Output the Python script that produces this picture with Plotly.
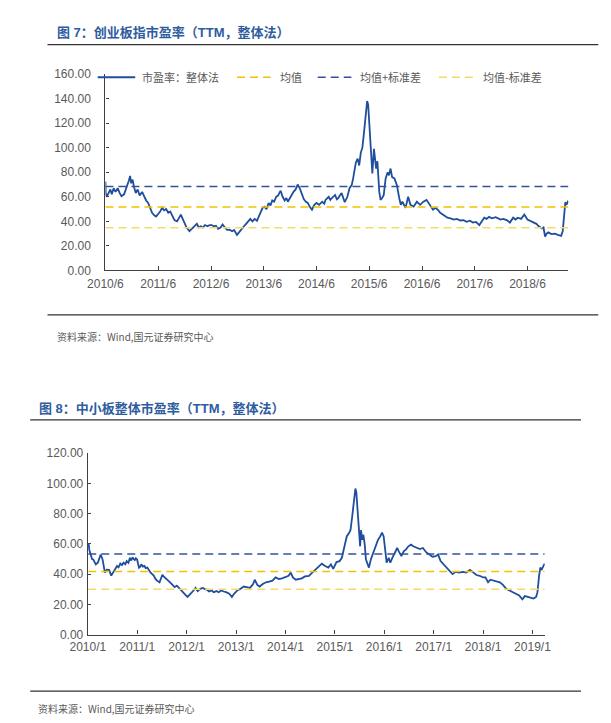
import plotly.graph_objects as go

# ---------------- data ----------------
# 图7 创业板指市盈率（TTM，整体法）
cyb_dates = [
    "2010-06-01", "2010-06-03", "2010-06-10", "2010-06-22", "2010-07-05", "2010-07-15", "2010-07-28",
    "2010-08-10", "2010-08-25", "2010-09-08", "2010-09-20", "2010-10-08", "2010-10-20", "2010-11-01",
    "2010-11-10", "2010-11-19", "2010-11-26", "2010-12-06", "2010-12-16", "2010-12-28", "2011-01-10",
    "2011-01-24", "2011-02-10", "2011-02-24", "2011-03-10", "2011-03-24", "2011-04-08", "2011-04-20",
    "2011-05-05", "2011-05-18", "2011-06-01", "2011-06-15", "2011-06-28", "2011-07-12", "2011-07-26",
    "2011-08-10", "2011-08-24", "2011-09-08", "2011-09-22", "2011-10-10", "2011-10-24", "2011-11-05",
    "2011-11-18", "2011-12-01", "2011-12-15", "2012-01-04", "2012-01-18", "2012-02-06", "2012-02-24",
    "2012-03-08", "2012-03-22", "2012-04-06", "2012-04-20", "2012-05-08", "2012-05-22", "2012-06-06",
    "2012-06-20", "2012-07-05", "2012-07-20", "2012-08-06", "2012-08-20", "2012-09-05", "2012-09-20",
    "2012-10-10", "2012-10-25", "2012-11-08", "2012-11-28", "2012-12-12", "2012-12-28", "2013-01-15",
    "2013-01-30", "2013-02-15", "2013-02-28", "2013-03-15", "2013-03-30", "2013-04-15", "2013-04-28",
    "2013-05-10", "2013-05-24", "2013-06-06", "2013-06-20", "2013-07-05", "2013-07-18", "2013-07-30",
    "2013-08-12", "2013-08-26", "2013-09-08", "2013-09-26", "2013-10-10", "2013-10-24", "2013-11-05",
    "2013-11-15", "2013-11-28", "2013-12-10", "2013-12-24", "2014-01-08", "2014-01-22", "2014-02-05",
    "2014-02-20", "2014-03-06", "2014-03-20", "2014-04-02", "2014-04-15", "2014-05-01", "2014-05-15",
    "2014-06-01", "2014-06-19", "2014-07-11", "2014-07-25", "2014-08-03", "2014-08-25", "2014-09-05",
    "2014-09-16", "2014-10-08", "2014-10-20", "2014-10-30", "2014-11-10", "2014-11-22", "2014-12-14",
    "2015-01-01", "2015-01-16", "2015-01-31", "2015-02-10", "2015-02-19", "2015-03-01", "2015-03-13",
    "2015-03-24", "2015-04-04", "2015-04-15", "2015-04-26", "2015-05-07", "2015-05-18", "2015-05-25",
    "2015-06-03", "2015-06-16", "2015-06-23", "2015-07-04", "2015-07-13", "2015-07-19", "2015-07-28",
    "2015-08-10", "2015-08-19", "2015-08-30", "2015-09-10", "2015-09-23", "2015-10-07", "2015-10-16",
    "2015-10-27", "2015-11-07", "2015-11-23", "2015-12-10", "2015-12-26", "2016-01-06", "2016-01-17",
    "2016-02-08", "2016-02-26", "2016-03-13", "2016-04-04", "2016-04-26", "2016-05-19", "2016-06-10",
    "2016-07-02", "2016-07-24", "2016-08-16", "2016-09-01", "2016-09-18", "2016-10-05", "2016-10-22",
    "2016-11-08", "2016-11-24", "2016-12-15", "2017-01-08", "2017-01-28", "2017-02-21", "2017-03-15",
    "2017-04-06", "2017-04-28", "2017-05-20", "2017-06-10", "2017-07-03", "2017-07-20", "2017-08-06",
    "2017-08-22", "2017-09-08", "2017-09-28", "2017-10-23", "2017-11-10", "2017-11-25", "2017-12-15",
    "2018-01-08", "2018-01-30", "2018-02-22", "2018-03-10", "2018-03-26", "2018-04-18", "2018-05-10",
    "2018-06-01", "2018-06-24", "2018-07-16", "2018-08-02", "2018-08-18", "2018-09-09", "2018-09-20",
    "2018-10-01", "2018-10-12", "2018-10-23", "2018-11-14", "2018-12-07", "2018-12-29", "2019-01-20",
    "2019-01-31", "2019-02-09", "2019-02-18", "2019-02-27", "2019-03-07", "2019-03-11",
]
cyb_pe = [
    72.5, 63, 60, 63, 66, 62, 67,
    64, 67, 63, 60.5, 62, 67, 70,
    73, 77, 71, 74, 68, 63, 66,
    61, 64, 60, 57, 55, 51, 47,
    45, 44, 46, 48, 51, 49, 50,
    47, 48, 44, 41, 40, 43, 45.5,
    42, 38, 35, 32, 34, 36, 38,
    35, 36, 35, 37, 36, 37, 37,
    36, 36.5, 34, 35, 37.5, 35, 33,
    33, 32, 33, 29, 31, 33, 36,
    38, 40, 42, 40, 42, 40.5, 44,
    47, 51, 52, 50, 55, 53, 57,
    56, 60, 61, 65, 60, 57, 59,
    56, 59, 62, 64, 66, 70, 67,
    62, 58, 56, 55, 52, 49.5, 53,
    55, 53.5, 56, 54.5, 57.5, 60, 57.5,
    59, 61.5, 58, 59, 61, 63, 55.6,
    60, 67, 69.5, 75, 83, 88, 91,
    85.5, 96, 100, 112, 125, 138, 135,
    117, 91, 79, 99, 91, 83, 89,
    64, 57.5, 59, 61.5, 75, 80, 77.5,
    83, 76, 75, 69.5, 59, 53.5, 56,
    51, 60, 53.5, 52, 56, 53.5, 56,
    57.5, 53.5, 49.5, 51, 49.5, 47, 45.5,
    44, 43, 42.5, 41.5, 42, 40.7, 41,
    39.7, 40.5, 39, 39.5, 37, 40, 43,
    42, 43.7, 42.5, 43.4, 42.5, 41.5, 42,
    41, 39, 43, 41.5, 43, 42, 45.5,
    41.5, 40, 39, 38, 36, 34.3, 35,
    27.7, 30, 31, 29.6, 30, 29, 28.2,
    32, 45.5, 55.6, 53.5, 56, 55.6,
]
cyb_mean = 51.6
cyb_std = 16.7
cyb_tick_vals = ["2010-06-01", "2011-06-01", "2012-06-01", "2013-06-01", "2014-06-01",
                 "2015-06-01", "2016-06-01", "2017-06-01", "2018-06-01"]
cyb_tick_text = ["2010/6", "2011/6", "2012/6", "2013/6", "2014/6",
                 "2015/6", "2016/6", "2017/6", "2018/6"]

# 图8 中小板整体市盈率（TTM，整体法）
zxb_dates = [
    "2010-01-04", "2010-01-07", "2010-01-12", "2010-01-24", "2010-02-01", "2010-02-10", "2010-03-01",
    "2010-03-16", "2010-03-28", "2010-04-06", "2010-04-20", "2010-05-07", "2010-05-21", "2010-06-07",
    "2010-06-23", "2010-07-12", "2010-07-25", "2010-08-05", "2010-08-16", "2010-08-29", "2010-09-10",
    "2010-09-22", "2010-10-05", "2010-10-15", "2010-10-28", "2010-11-08", "2010-11-18", "2010-11-27",
    "2010-12-05", "2010-12-14", "2010-12-22", "2010-12-31", "2011-01-14", "2011-01-24", "2011-01-31",
    "2011-02-12", "2011-02-23", "2011-03-05", "2011-03-17", "2011-03-28", "2011-04-10", "2011-04-22",
    "2011-05-03", "2011-05-15", "2011-05-27", "2011-06-15", "2011-06-25", "2011-07-06", "2011-07-15",
    "2011-07-25", "2011-08-08", "2011-08-18", "2011-09-01", "2011-09-11", "2011-09-25", "2011-10-05",
    "2011-10-21", "2011-11-10", "2011-11-22", "2011-12-03", "2011-12-15", "2011-12-27", "2012-01-08",
    "2012-01-25", "2012-02-13", "2012-02-25", "2012-03-07", "2012-03-23", "2012-04-11", "2012-05-01",
    "2012-05-15", "2012-05-29", "2012-06-15", "2012-07-04", "2012-07-20", "2012-08-09", "2012-08-25",
    "2012-09-14", "2012-10-01", "2012-10-19", "2012-11-12", "2012-12-01", "2012-12-17", "2013-01-10",
    "2013-02-03", "2013-02-27", "2013-03-20", "2013-04-13", "2013-05-07", "2013-05-19", "2013-06-07",
    "2013-06-24", "2013-07-17", "2013-08-10", "2013-09-03", "2013-09-27", "2013-10-20", "2013-11-13",
    "2013-12-07", "2013-12-31", "2014-01-24", "2014-02-09", "2014-02-25", "2014-03-18", "2014-04-10",
    "2014-05-02", "2014-05-25", "2014-06-24", "2014-07-18", "2014-08-11", "2014-09-04", "2014-09-27",
    "2014-10-21", "2014-11-14", "2014-12-03", "2014-12-20", "2015-01-13", "2015-02-05", "2015-02-22",
    "2015-03-11", "2015-03-30", "2015-04-15", "2015-04-27", "2015-05-09", "2015-05-21", "2015-06-02",
    "2015-06-09", "2015-06-18", "2015-06-28", "2015-07-07", "2015-07-14", "2015-07-21", "2015-07-31",
    "2015-08-10", "2015-08-19", "2015-08-29", "2015-09-10", "2015-09-24", "2015-10-11", "2015-10-30",
    "2015-11-16", "2015-12-02", "2015-12-16", "2015-12-28", "2016-01-10", "2016-01-19", "2016-02-03",
    "2016-02-15", "2016-03-01", "2016-03-20", "2016-04-06", "2016-04-18", "2016-05-07", "2016-05-24",
    "2016-06-09", "2016-06-28", "2016-07-17", "2016-08-03", "2016-08-27", "2016-09-20", "2016-10-13",
    "2016-11-06", "2016-11-30", "2016-12-23", "2017-01-16", "2017-02-02", "2017-02-21", "2017-03-15",
    "2017-04-08", "2017-05-01", "2017-05-20", "2017-06-13", "2017-07-07", "2017-08-05", "2017-08-29",
    "2017-09-26", "2017-10-20", "2017-11-13", "2017-12-07", "2018-01-01", "2018-01-19", "2018-02-07",
    "2018-02-24", "2018-03-18", "2018-04-11", "2018-05-05", "2018-05-28", "2018-06-21", "2018-07-15",
    "2018-08-08", "2018-09-01", "2018-09-25", "2018-10-18", "2018-11-06", "2018-11-28", "2018-12-16",
    "2019-01-09", "2019-01-28", "2019-02-07", "2019-02-19", "2019-02-28", "2019-03-11", "2019-03-25",
    "2019-04-01",
]
zxb_pe = [
    59.5, 60, 56, 52, 50, 49.7, 46.5,
    47.6, 50, 53, 49.7, 41, 43, 42.8,
    39, 41.7, 43, 45.4, 44.5, 47, 46,
    47.6, 46.5, 48.6, 47.5, 50.8, 49, 51.2,
    50, 49.3, 50.5, 49.7, 44.3, 45, 46.5,
    45, 45.4, 44, 44.3, 42.5, 41, 40,
    39, 37, 35.7, 34.6, 37, 39.6, 38.5,
    37.8, 36.5, 35.7, 34.5, 33.5, 32, 31.4,
    32.4, 30.3, 29.5, 28.1, 27, 25.9, 24.9,
    26.4, 28.1, 29.5, 30.9, 28.8, 30.3, 30.9,
    30, 29.8, 28.5, 29.2, 28, 28.8, 28,
    29.2, 28.5, 28.1, 27, 24.9, 27, 29.2,
    30.3, 31.8, 31.4, 30.9, 33.5, 36.3, 32.9,
    31.8, 33.5, 34.6, 35, 35.7, 37.8, 36.8,
    37.2, 37.8, 38.9, 41, 37.8, 36.3, 36.8,
    37.2, 38.5, 38.9, 41, 43.2, 45.4, 46.9,
    45.4, 44.3, 46.5, 43.5, 48, 48.6, 50.8,
    58.4, 64.9, 67, 69.2, 77.8, 88.6, 96.6,
    94, 82, 64.9, 58.4, 69.2, 62.7, 66,
    59.5, 49.7, 46.5, 44.3, 49.7, 54, 59.5,
    62.7, 64.9, 67.5, 64.9, 54, 47.6, 50.8,
    47.6, 50.8, 54, 57.3, 55.1, 51.9, 55.1,
    56.2, 58.4, 59.5, 58.4, 57.3, 56.6, 57.3,
    54.5, 53, 51.5, 51.9, 53, 48.6, 46.5,
    44.3, 41.5, 40, 41.5, 41, 41.5, 41,
    42.8, 41, 39.4, 38.9, 37.8, 37.8, 34.6,
    36.3, 35.7, 35.2, 34.6, 32.9, 30.3, 29.2,
    28.1, 27, 25.9, 23.4, 25.5, 24.9, 24.2,
    23.8, 24.9, 28.1, 38.9, 44.3, 43.2, 45.8,
    47,
]
zxb_mean = 41.7
zxb_std = 11.7
zxb_tick_vals = ["2010-01-01", "2011-01-01", "2012-01-01", "2013-01-01", "2014-01-01",
                 "2015-01-01", "2016-01-01", "2017-01-01", "2018-01-01", "2019-01-01"]
zxb_tick_text = ["2010/1", "2011/1", "2012/1", "2013/1", "2014/1",
                 "2015/1", "2016/1", "2017/1", "2018/1", "2019/1"]

legend_labels = ["市盈率：整体法", "均值", "均值+标准差", "均值-标准差"]

# ---------------- styling ----------------
W, H = 611, 723
def fx(p):
    return p / W
def fy(p):
    return 1 - p / H

LINE_BLUE = "#1F4E9C"
DASH_BLUE = "#34519E"
GOLD = "#F2C200"
LIGHT_GOLD = "#F7D96A"
TXT = "#595959"
AXIS = "#404040"
TITLE_BLUE = "#2E5C9E"
DASH = "8px,5px"
NUM_FONT = "Liberation Sans, Arial, sans-serif"
CJK_FONT = "Noto Sans CJK SC, sans-serif"
TITLE_FONT = "Liberation Sans, Noto Sans CJK SC, sans-serif"

fig = go.Figure()

def add_panel(dates, values, mean, std, xa, ya):
    fig.add_trace(go.Scatter(x=dates, y=values, mode="lines", xaxis=xa, yaxis=ya,
                             line=dict(color=LINE_BLUE, width=1.8), showlegend=False,
                             name=legend_labels[0]))
    span = [dates[0], dates[-1]]
    for val, col, nm in [(mean + std, DASH_BLUE, legend_labels[2]),
                         (mean, GOLD, legend_labels[1]),
                         (mean - std, LIGHT_GOLD, legend_labels[3])]:
        fig.add_trace(go.Scatter(x=span, y=[val, val], mode="lines", xaxis=xa, yaxis=ya,
                                 line=dict(color=col, width=1.5, dash=DASH),
                                 showlegend=False, name=nm))

add_panel(cyb_dates, cyb_pe, cyb_mean, cyb_std, "x", "y")
add_panel(zxb_dates, zxb_pe, zxb_mean, zxb_std, "x2", "y2")

common_x = dict(type="date", showline=True, linecolor=AXIS, linewidth=1.3, ticks="inside",
                ticklen=4, tickcolor=AXIS, tickwidth=1, showgrid=False, zeroline=False,
                tickfont=dict(family=NUM_FONT, size=12, color=TXT), fixedrange=True)
common_y = dict(showline=True, linecolor=AXIS, linewidth=1.3, ticks="inside", ticklen=3,
                tickcolor=AXIS, tickwidth=1, showgrid=False, zeroline=False, tickformat=".2f",
                tickfont=dict(family=NUM_FONT, size=12, color=TXT), fixedrange=True)

fig.update_layout(
    width=W, height=H, margin=dict(l=0, r=0, t=0, b=0),
    paper_bgcolor="white", plot_bgcolor="white", showlegend=False,
    xaxis=dict(common_x, domain=[fx(91), fx(573)], anchor="y",
               range=["2010-06-01", "2019-03-12"], tickvals=cyb_tick_vals,
               ticktext=cyb_tick_text, ticklabelstandoff=2),
    yaxis=dict(common_y, domain=[fy(268.7), fy(68.3)], anchor="x", range=[0, 160],
               dtick=20, tick0=0, ticklabelstandoff=11),
    xaxis2=dict(common_x, domain=[fx(72.7), fx(548.3)], anchor="y2",
                range=["2010-01-01", "2019-04-02"], tickvals=zxb_tick_vals,
                ticktext=zxb_tick_text, ticklabelstandoff=1),
    yaxis2=dict(common_y, domain=[fy(640), fy(455)], anchor="x2", range=[0, 120],
                dtick=20, tick0=0, ticklabelstandoff=1),
)

shapes = []
# separator rules
for y, x0, x1 in [(38.3, 30.7, 604), (314, 30.7, 604), (421, 12.7, 586), (697.7, 12.7, 586)]:
    shapes.append(dict(type="line", xref="paper", yref="paper", x0=fx(x0), x1=fx(x1),
                       y0=fy(y), y1=fy(y), line=dict(color="#333333", width=1.3)))
# legend samples (top panel)
leg_y = 71.7
leg_items = [(83, 122, LINE_BLUE, "solid", 2.0, 128),
             (228, 263, GOLD, DASH, 1.5, 272),
             (312, 347, DASH_BLUE, DASH, 1.5, 355),
             (438, 475, LIGHT_GOLD, DASH, 1.5, 483)]
for x0, x1, col, dsh, wd, _ in leg_items:
    shapes.append(dict(type="line", xref="paper", yref="paper", x0=fx(x0), x1=fx(x1),
                       y0=fy(leg_y), y1=fy(leg_y), line=dict(color=col, width=wd, dash=dsh)))
fig.update_layout(shapes=shapes)

annotations = []
def text(x, y, s, size, color, family, bold=False):
    annotations.append(dict(xref="paper", yref="paper", x=fx(x), y=fy(y), xanchor="left",
                            yanchor="middle", showarrow=False, borderpad=0,
                            text=("<b>%s</b>" % s) if bold else s,
                            font=dict(size=size, color=color, family=family)))

text(40, 26, "图 7：创业板指市盈率（TTM，整体法）", 13, TITLE_BLUE, TITLE_FONT, bold=True)
text(21, 409.5, "图 8：中小板整体市盈率（TTM，整体法）", 13, TITLE_BLUE, TITLE_FONT, bold=True)
text(40, 336, "资料来源：Wind,国元证券研究中心", 10, TXT, CJK_FONT)
text(20, 715.5, "资料来源：Wind,国元证券研究中心", 10, TXT, CJK_FONT)
for (x0, x1, col, dsh, wd, tx), lab in zip(leg_items, legend_labels):
    text(tx, leg_y, lab, 11, TXT, CJK_FONT)
fig.update_layout(annotations=annotations)

fig.write_html("out.html", config={"displayModeBar": False},
               post_script="document.body.style.margin='0';document.body.style.overflow='hidden';")
